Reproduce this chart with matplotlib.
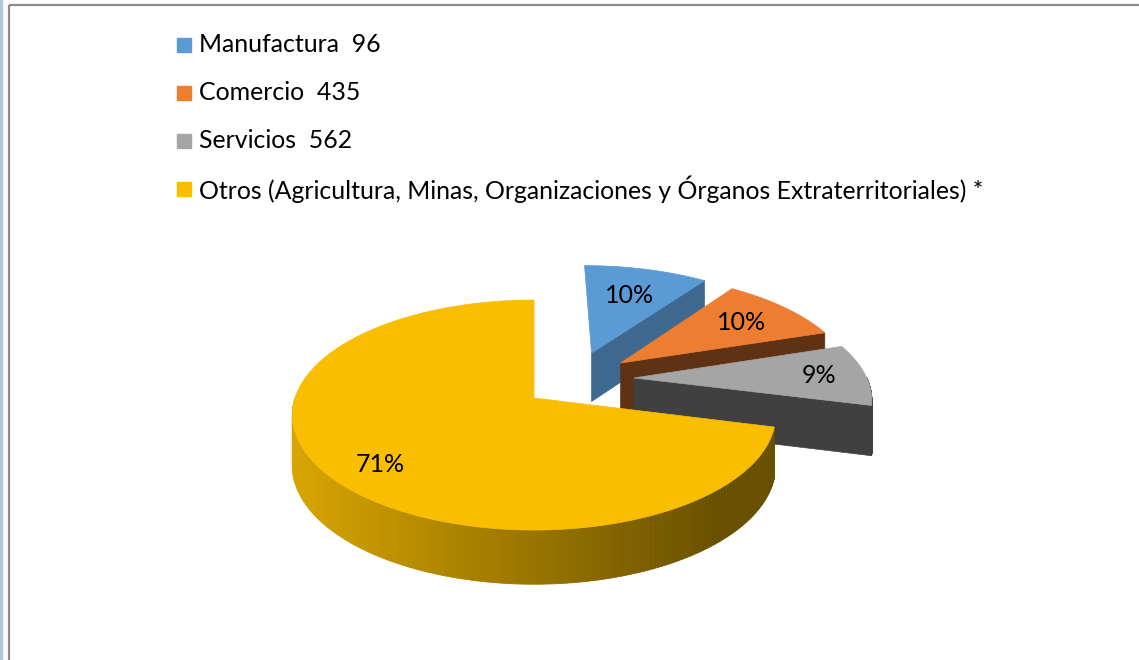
import numpy as np
import matplotlib
matplotlib.use("Agg")
import matplotlib.pyplot as plt
from matplotlib.patches import Polygon, Rectangle

plt.rcParams['font.family'] = ['Lato', 'DejaVu Sans']

# data
sectors = ["Manufactura", "Comercio", "Servicios",
           "Otros (Agricultura, Minas, Organizaciones y Órganos Extraterritoriales) *"]
counts = ["96", "435", "562", ""]
shares = [10, 10, 9, 71]
pct_labels = ["10%", "10%", "9%", "71%"]

top_colors = ["#5B9BD5", "#ED7D31", "#A5A5A5", "#F9BE00"]
cut_colors = ["#3E6890", "#603214", "#404040", "#6A4F00"]

# layout of the fake 3d pie (pixel space)
cx, cy = 534, 398
rx, ry = 239, 112.5
persp = 0.148
depth = 50
# explode offsets in "world" units (x, depth)
offsets = [(0.256, -0.425), (0.38, -0.326), (0.43, -0.183), (0.0, 0.0)]
label_r = [0.66, 0.72, 0.8, 0.76]


def proj(X, W, z=0.0):
    s = 1.0 / (1.0 - persp * np.asarray(W))
    return cx + rx * np.asarray(X) * s, cy + ry * np.asarray(W) * s + z * depth * np.sqrt(s)


def rim(ox, ow, th, z=0.0):
    return proj(ox + np.sin(th), ow - np.cos(th), z)


fig = plt.figure(figsize=(11.39, 6.6), dpi=100)
ax = fig.add_axes([0, 0, 1, 1])
ax.set_xlim(0, 1139)
ax.set_ylim(660, 0)
ax.axis("off")

# frame like the excel chart area
ax.add_patch(Rectangle((0, 0), 2, 660, color="#AFC8DF", zorder=0))
ax.add_patch(Rectangle((9, 5), 1200, 700, fill=False, edgecolor="#8C8C8C", lw=1.6, zorder=0))

total = float(sum(shares))
starts = np.cumsum([0] + shares[:-1]) / total * 2 * np.pi
ends = np.cumsum(shares) / total * 2 * np.pi

zo = 1
for i in range(len(shares)):
    a0, a1 = starts[i], ends[i]
    ox, ow = offsets[i]
    vx, vy = proj(ox, ow)
    vbx, vby = proj(ox, ow, 1)

    # cut face at the end angle (faces the viewer for the right hand slices)
    if a1 < np.pi:
        ex, ey = rim(ox, ow, a1)
        ebx, eby = rim(ox, ow, a1, 1)
        ax.add_patch(Polygon([(vx, vy), (ex, ey), (ebx, eby), (vbx, vby)],
                             closed=True, fc=cut_colors[i], ec=cut_colors[i], lw=0.5, zorder=zo))

    # outer curved side, front half only
    lo, hi = max(a0, np.pi / 2), min(a1, 1.5 * np.pi)
    if hi > lo:
        th = np.linspace(lo, hi, 160)
        tx, ty = rim(ox, ow, th)
        bx, by = rim(ox, ow, th, 1)
        base = np.array(matplotlib.colors.to_rgb(top_colors[i]))
        for k in range(len(th) - 1):
            if i == 3:
                t = np.clip((tx[k] - 290) / 430.0, 0, 1)
                col = base * (0.87 - 0.45 * t)
            else:
                col = matplotlib.colors.to_rgb(cut_colors[i])
            ax.add_patch(Polygon([(tx[k], ty[k]), (tx[k + 1], ty[k + 1]),
                                  (bx[k + 1], by[k + 1]), (bx[k], by[k])],
                                 closed=True, fc=col, ec=col, lw=0.6, zorder=zo))

    # top face
    th = np.linspace(a0, a1, 200)
    tx, ty = rim(ox, ow, th)
    pts = [(vx, vy)] + list(zip(tx, ty))
    ax.add_patch(Polygon(pts, closed=True, fc=top_colors[i], ec=top_colors[i], lw=0.5, zorder=zo + 1))

    # percent label
    mid = (a0 + a1) / 2
    lx, ly = proj(ox + label_r[i] * np.sin(mid), ow - label_r[i] * np.cos(mid))
    if i == 3:
        ly += 10
    ax.text(lx, ly, pct_labels[i], fontsize=18, ha="center", va="center", color="black", zorder=zo + 2)
    zo += 3

# legend
for i, name in enumerate(sectors):
    y = 45 + i * 48
    ax.add_patch(Rectangle((177, y - 7), 14, 14, color=top_colors[i], zorder=20))
    lab = name + ("  " + counts[i] if counts[i] else "")
    ax.text(199, y, lab, fontsize=17.9, ha="left", va="center", color="black", zorder=20)

plt.savefig("out.png", dpi=100)
